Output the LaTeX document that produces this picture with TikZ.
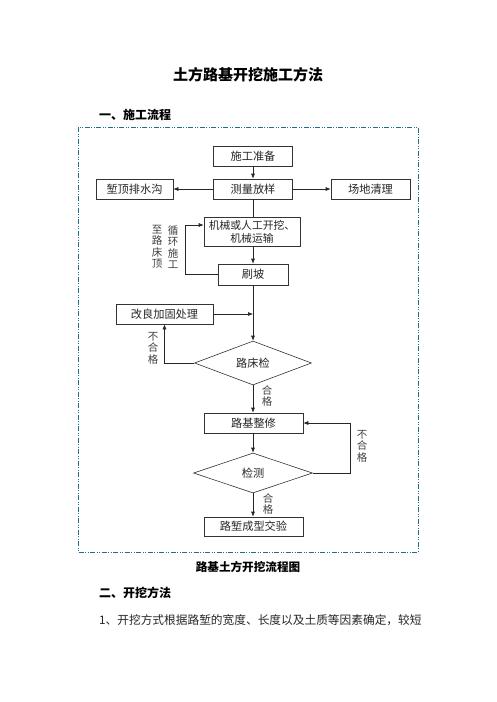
\documentclass[tikz,border=0pt]{standalone}
\usepackage{fontspec}
\setmainfont{Noto Sans CJK SC}
\usetikzlibrary{arrows.meta,shapes.geometric}
\begin{document}
\begin{tikzpicture}[x=1pt,y=-1pt,
  box/.style={draw=black!80,line width=0.6pt,rectangle,inner sep=0pt,font=\fontsize{11.2pt}{13pt}\selectfont,text=black!85},
  dia/.style={draw=black!80,line width=0.6pt,diamond,inner sep=0pt,font=\fontsize{11.2pt}{13pt}\selectfont,text=black!85},
  arr/.style={draw=black!85,line width=0.6pt,-{Latex[length=5pt,width=4pt]}},
  ln/.style={draw=black!85,line width=0.6pt},
  vlab/.style={align=center,inner sep=0pt,text=black!75,font=\fontsize{10.5pt}{11.5pt}\selectfont},
  hd/.style={inner sep=0pt,anchor=west,font=\fontsize{12pt}{14pt}\selectfont\bfseries}]
\useasboundingbox[fill=white] (0,0) rectangle (496,702);
\node[inner sep=0pt,font=\fontsize{15pt}{18pt}\selectfont\bfseries] (title) at (248,75) {土方路基开挖施工方法};
\node[hd] (h1) at (99,115) {一、施工流程};
\draw[draw={rgb,255:red,31;green,110;blue,140},line width=0.8pt,dash pattern=on 5pt off 1.5pt on 1pt off 1.5pt on 1pt off 1.5pt] (78,127) rectangle (418,552);
% flow chart
\node[box,minimum width=79pt,minimum height=20pt] (prep) at (253,156) {施工准备};
\node[box,minimum width=79pt,minimum height=20pt] (survey) at (253,189) {测量放样};
\node[box,minimum width=77pt,minimum height=20pt] (ditch) at (134.5,189) {堑顶排水沟};
\node[box,minimum width=79pt,minimum height=20pt] (clear) at (370.5,189) {场地清理};
\node[box,minimum width=96pt,minimum height=29pt,align=center,font=\fontsize{10.8pt}{13pt}\selectfont] (mach) at (252,231.5) {机械或人工开挖、\\机械运输};
\node[box,minimum width=70pt,minimum height=21pt] (slope) at (253,274.5) {刷坡};
\node[box,minimum width=97pt,minimum height=20pt] (improve) at (164.5,314) {改良加固处理};
\node[dia,minimum width=117pt,minimum height=40pt] (d1) at (253,363) {路床检};
\node[box,minimum width=99pt,minimum height=20pt] (repair) at (253.5,423) {路基整修};
\node[dia,minimum width=119pt,minimum height=40pt] (d2) at (253,473) {检测};
\node[box,minimum width=99pt,minimum height=19pt] (final) at (253.5,526.5) {路堑成型交验};
\coordinate (lb) at (185,274.5);
\coordinate (lt) at (185,225);
\coordinate (rj) at (350,473);
\draw[arr] (prep.south) -- (survey.north);
\draw[arr] (survey.west) -- (ditch.east);
\draw[arr] (survey.east) -- (clear.west);
\draw[ln] (survey.south) -- (survey.south |- mach.north);
\draw[arr] (mach.south -| slope.north) -- (slope.north);
\draw[arr] (slope.west) -- (lb) -- (lt) -- (lt -| mach.west);
\draw[arr] (slope.south) -- (d1.north);
\draw[arr] (improve.east) -- (improve.east -| slope.south);
\draw[arr] (d1.west) -| (improve.south);
\draw[arr] (d1.south) -- (d1.south |- repair.north);
\draw[arr] (repair.south -| d2.north) -- (d2.north);
\draw[arr] (d2.east) -- (rj) |- (repair.east);
\draw[arr] (d2.south) -- (d2.south |- final.north);
% labels
\node[vlab] (l1) at (157,247) {至\\路\\床\\顶};
\node[vlab] (l2) at (173,247) {循\\环\\施\\工};
\node[vlab] (l3) at (153,348) {不\\合\\格};
\node[vlab] (l4) at (267,396) {合\\格};
\node[vlab] (l5) at (362,446) {不\\合\\格};
\node[vlab] (l6) at (268,504) {合\\格};
% text below
\node[inner sep=0pt,font=\fontsize{11.6pt}{14pt}\selectfont\bfseries] (cap) at (248,567) {路基土方开挖流程图};
\node[hd] (h2) at (99,593) {二、开挖方法};
\node[inner sep=0pt,anchor=west,font=\fontsize{11.7pt}{14pt}\selectfont,text=black!85] (body) at (99,620) {1、开挖方式根据路堑的宽度、长度以及土质等因素确定，较短};
\end{tikzpicture}
\end{document}
